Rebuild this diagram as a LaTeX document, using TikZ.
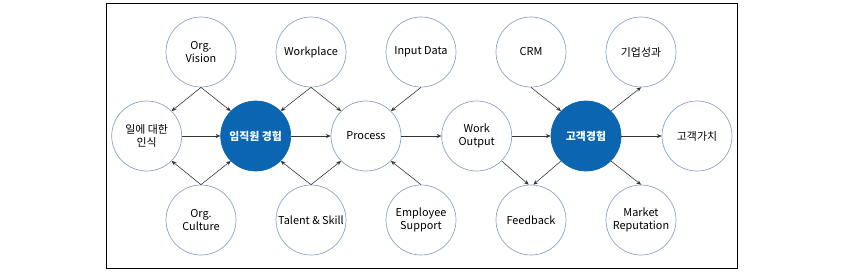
\documentclass[tikz,border=0pt]{standalone}
\usepackage{fontspec}
\setmainfont{Noto Sans CJK KR}
\usetikzlibrary{arrows.meta}
\definecolor{rimblue}{HTML}{8EA3BF}
\definecolor{hubblue}{HTML}{0C65B1}

\begin{document}
\begin{tikzpicture}[x=0.03cm,y=-0.03cm,
		bub/.style={circle,draw=rimblue,line width=0.6pt,minimum size=2.1cm,inner sep=0pt,
			align=center,font=\fontsize{9.3}{11}\selectfont},
		hub/.style={bub,fill=hubblue,draw=hubblue,text=white,font=\fontsize{9.3}{11}\selectfont\bfseries},
		arr/.style={-{Stealth[length=4pt,width=3.5pt]},line width=0.5pt,draw=black!80}]
			\useasboundingbox (0,0) rectangle (844,271);
			\draw[line width=0.7pt] (106,3) rectangle (737,268);
			% left half
			\node[bub] (percep) at (146.7,136) {일에 대한\\인식};
			\node[bub] (vision) at (201,52) {Org.\\Vision};
			\node[bub] (culture) at (201,220) {Org.\\Culture};
			\node[hub] (emp) at (255.7,136) {임직원 경험};
			\node[bub] (workplace) at (311,52) {Workplace};
			\node[bub] (talent) at (311,220) {Talent \& Skill};
			\node[bub] (process) at (366,136) {Process};
			\node[bub] (input) at (421,52) {Input Data};
			\node[bub] (support) at (421,220) {Employee\\Support};
			% right half
			\node[bub] (output) at (476.7,136) {Work\\Output};
			\node[bub] (crm) at (531,52) {CRM};
			\node[bub] (feedback) at (531,220) {Feedback};
			\node[hub] (cx) at (586,136) {고객경험};
			\node[bub] (perf) at (641,52) {기업성과};
			\node[bub] (market) at (641,220) {Market\\Reputation};
			\node[bub] (value) at (697,136) {고객가치};
			% arrows
			\draw[arr] (vision.south) -- (percep.north east);
			\draw[arr] (vision.south) -- (emp.north west);
			\draw[arr] (culture.north) -- (percep.south east);
			\draw[arr] (culture.north) -- (emp.south west);
			\draw[arr] (workplace.south) -- (emp.north east);
			\draw[arr] (workplace.south) -- (process.north west);
			\draw[arr] (talent.north) -- (emp.south east);
			\draw[arr] (talent.north) -- (process.south west);
			\draw[arr] (input.south) -- (process.north east);
			\draw[arr] (support.north) -- (process.south east);
			\draw[arr] (percep) -- (emp);
			\draw[arr] (emp) -- (process);
			\draw[arr] (process) -- (output);
			\draw[arr] (output) -- (cx);
			\draw[arr] (cx) -- (value);
			\draw[arr] (crm.south) -- (cx.north west);
			\draw[arr] (cx.north east) -- (perf.south);
			\draw[arr] (cx.south east) -- (market.north);
			\draw[arr] (output.south east) -- ([xshift=-2pt]feedback.north);
			\draw[arr] (cx.south west) -- ([xshift=2pt]feedback.north);
		\end{tikzpicture}
\end{document}
